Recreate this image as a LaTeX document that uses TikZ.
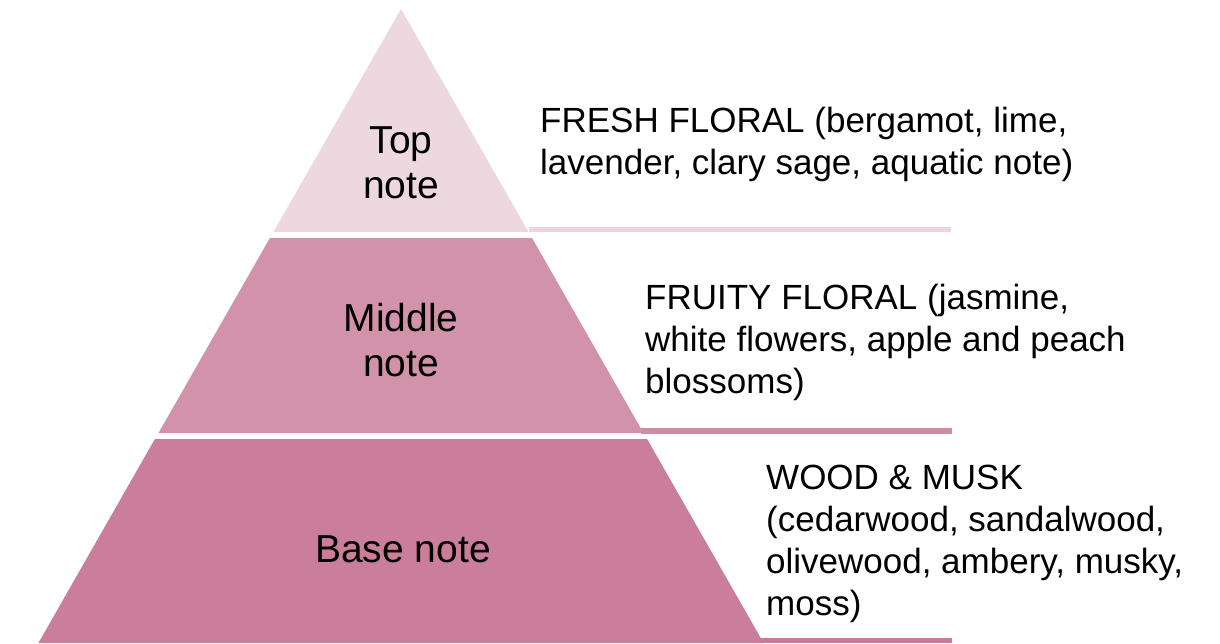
\documentclass[tikz,border=0pt]{standalone}
\usepackage{fontspec}
\setmainfont{Liberation Sans}
\usepackage{xcolor}
\usetikzlibrary{positioning}
\definecolor{toplayer}{HTML}{EDD8E0}
\definecolor{topbar}{HTML}{EBD4DD}
\definecolor{midlayer}{HTML}{D292AA}
\definecolor{midbar}{HTML}{CE8CA5}
\definecolor{baselayer}{HTML}{CB7D9C}
\definecolor{basebar}{HTML}{C97A9A}
\tikzset{
  layer/.style={fill=#1, draw=none},
  notelabel/.style={align=center, inner sep=0pt, anchor=base, font=\fontsize{39}{45}\selectfont},
  notetext/.style={align=left, inner sep=0pt, anchor=base west, font=\fontsize{35}{42}\selectfont}
}
\begin{document}
\begin{tikzpicture}[x=1pt,y=-1pt]
\useasboundingbox (0,0) rectangle (1220,643);
% pyramid layers
\fill[layer=toplayer] (401,9) -- (528.6,232) -- (273.4,232) -- cycle;
\fill[layer=topbar] (528.6,227) rectangle (951,232);
\fill[layer=midlayer] (269.9,238) -- (532.1,238) -- (643.5,433) -- (158.5,433) -- cycle;
\fill[layer=midbar] (640.6,428) rectangle (952,433.5);
\fill[layer=baselayer] (154.9,439) -- (647.1,439) -- (763.6,643) -- (38.4,643) -- cycle;
\fill[layer=basebar] (760.5,637.5) rectangle (952,643);
% labels (base anchor sits on the last line)
\node[notelabel] (top) at (401,198) {Top\\note};
\node[notelabel] (middle) at (401,376) {Middle\\note};
\node[notelabel] (base) at (403,562) {Base note};
% descriptions
\node[notetext] (toptext) at (540,174) {FRESH FLORAL (bergamot, lime,\\lavender, clary sage, aquatic note)};
\node[notetext] (midtext) at (645,393) {FRUITY FLORAL (jasmine,\\white flowers, apple and peach\\blossoms)};
\node[notetext] (basetext) at (766,615) {WOOD \& MUSK\\(cedarwood, sandalwood,\\olivewood, ambery, musky,\\moss)};
\end{tikzpicture}
\end{document}
